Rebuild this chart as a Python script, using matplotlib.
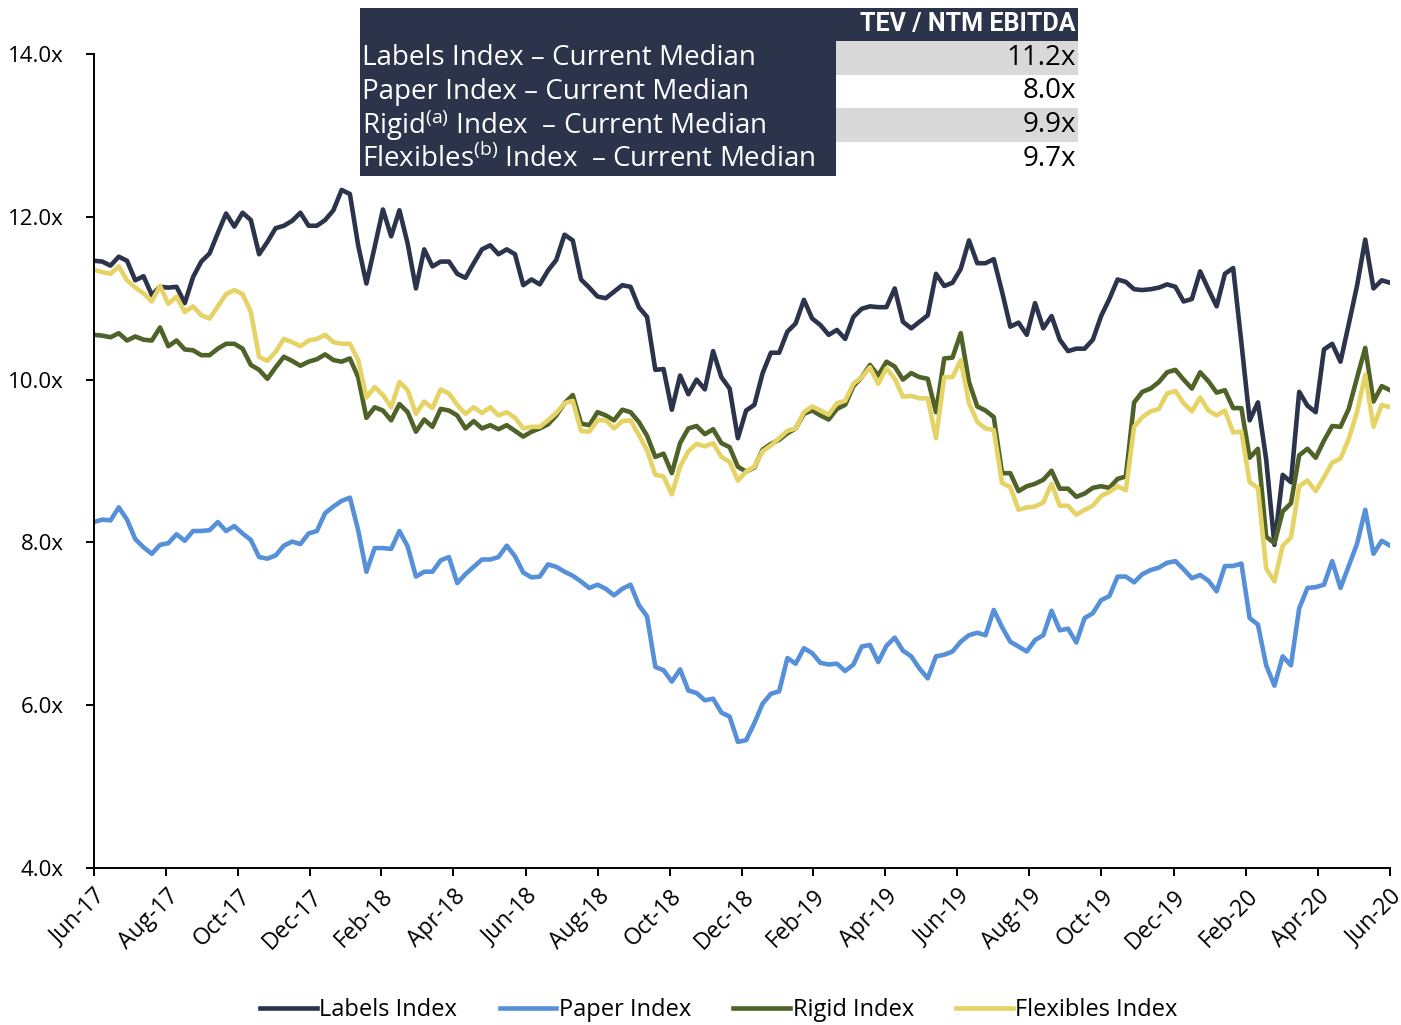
import matplotlib
matplotlib.use("Agg")
import matplotlib.pyplot as plt
from matplotlib.patches import Rectangle
import pandas as pd

plt.rcParams['font.family'] = ['Open Sans', 'DejaVu Sans']
plt.rcParams['mathtext.fontset'] = 'custom'
plt.rcParams['mathtext.rm'] = 'Open Sans'
plt.rcParams['mathtext.it'] = 'Open Sans:italic'
plt.rcParams['mathtext.bf'] = 'Open Sans:bold'

# weekly TEV / NTM EBITDA medians, Jun-17 .. Jun-20
labels_index = [
    11.46, 11.45, 11.40, 11.51, 11.46, 11.22, 11.27, 11.04, 11.14, 11.13,
    11.14, 10.94, 11.26, 11.45, 11.55, 11.80, 12.04, 11.88, 12.05, 11.96,
    11.54, 11.69, 11.86, 11.89, 11.95, 12.05, 11.89, 11.89, 11.96, 12.08,
    12.33, 12.28, 11.65, 11.18, 11.63, 12.09, 11.76, 12.08, 11.67, 11.12,
    11.60, 11.39, 11.45, 11.45, 11.30, 11.25, 11.43, 11.60, 11.65, 11.54,
    11.60, 11.54, 11.16, 11.23, 11.17, 11.34, 11.47, 11.78, 11.71, 11.23,
    11.13, 11.02, 11.00, 11.08, 11.16, 11.14, 10.89, 10.77, 10.12, 10.13,
    9.63, 10.05, 9.82, 10.00, 9.88, 10.35, 10.03, 9.89, 9.28, 9.62,
    9.69, 10.08, 10.33, 10.33, 10.59, 10.69, 10.98, 10.75, 10.67, 10.55,
    10.61, 10.50, 10.77, 10.87, 10.90, 10.89, 10.89, 11.12, 10.71, 10.63,
    10.71, 10.79, 11.30, 11.15, 11.19, 11.36, 11.71, 11.43, 11.43, 11.48,
    11.08, 10.65, 10.70, 10.55, 10.94, 10.63, 10.78, 10.49, 10.35, 10.38,
    10.38, 10.49, 10.78, 10.99, 11.23, 11.20, 11.11, 11.10, 11.11, 11.13,
    11.17, 11.14, 10.96, 10.99, 11.33, 11.11, 10.90, 11.30, 11.37, 10.45,
    9.50, 9.72, 9.02, 7.97, 8.83, 8.74, 9.85, 9.68, 9.60, 10.37,
    10.44, 10.22, 10.68, 11.15, 11.72, 11.12, 11.22, 11.19,
]

paper_index = [
    8.25, 8.28, 8.27, 8.43, 8.28, 8.04, 7.94, 7.86, 7.97, 7.99,
    8.10, 8.02, 8.14, 8.14, 8.15, 8.25, 8.14, 8.20, 8.11, 8.03,
    7.82, 7.80, 7.84, 7.96, 8.01, 7.98, 8.11, 8.14, 8.36, 8.44,
    8.51, 8.55, 8.15, 7.64, 7.93, 7.93, 7.92, 8.14, 7.95, 7.58,
    7.64, 7.64, 7.78, 7.82, 7.50, 7.61, 7.70, 7.79, 7.79, 7.82,
    7.96, 7.83, 7.63, 7.57, 7.58, 7.73, 7.70, 7.64, 7.59, 7.52,
    7.44, 7.48, 7.43, 7.35, 7.43, 7.48, 7.23, 7.09, 6.47, 6.43,
    6.29, 6.44, 6.18, 6.15, 6.06, 6.08, 5.91, 5.86, 5.55, 5.57,
    5.78, 6.02, 6.14, 6.17, 6.58, 6.51, 6.70, 6.64, 6.52, 6.50,
    6.51, 6.42, 6.50, 6.72, 6.74, 6.53, 6.73, 6.83, 6.67, 6.60,
    6.45, 6.33, 6.60, 6.62, 6.66, 6.78, 6.86, 6.89, 6.86, 7.17,
    6.96, 6.78, 6.72, 6.66, 6.80, 6.86, 7.16, 6.92, 6.94, 6.77,
    7.07, 7.13, 7.29, 7.34, 7.58, 7.58, 7.51, 7.61, 7.66, 7.69,
    7.75, 7.77, 7.67, 7.56, 7.60, 7.53, 7.40, 7.71, 7.71, 7.74,
    7.07, 6.99, 6.49, 6.24, 6.60, 6.49, 7.19, 7.44, 7.45, 7.48,
    7.77, 7.44, 7.71, 7.98, 8.40, 7.86, 8.02, 7.96,
]

rigid_index = [
    10.55, 10.54, 10.52, 10.57, 10.48, 10.53, 10.49, 10.48, 10.64, 10.41,
    10.48, 10.37, 10.36, 10.30, 10.30, 10.38, 10.44, 10.44, 10.38, 10.18,
    10.12, 10.01, 10.15, 10.28, 10.23, 10.17, 10.22, 10.25, 10.31, 10.24,
    10.22, 10.26, 10.03, 9.53, 9.66, 9.62, 9.50, 9.70, 9.60, 9.36,
    9.51, 9.42, 9.64, 9.62, 9.56, 9.40, 9.49, 9.40, 9.44, 9.39,
    9.44, 9.37, 9.30, 9.36, 9.40, 9.45, 9.56, 9.71, 9.81, 9.46,
    9.44, 9.60, 9.56, 9.50, 9.63, 9.60, 9.48, 9.31, 9.05, 9.09,
    8.85, 9.22, 9.40, 9.43, 9.33, 9.39, 9.22, 9.17, 8.93, 8.87,
    8.92, 9.14, 9.21, 9.26, 9.34, 9.40, 9.58, 9.62, 9.56, 9.51,
    9.64, 9.69, 9.92, 10.03, 10.18, 10.05, 10.22, 10.16, 10.00, 10.08,
    10.03, 10.01, 9.60, 10.26, 10.27, 10.57, 9.97, 9.67, 9.62, 9.54,
    8.85, 8.85, 8.63, 8.69, 8.72, 8.77, 8.88, 8.66, 8.66, 8.56,
    8.60, 8.67, 8.69, 8.67, 8.78, 8.81, 9.72, 9.85, 9.89, 9.97,
    10.09, 10.12, 10.00, 9.89, 10.09, 9.98, 9.84, 9.87, 9.65, 9.65,
    9.04, 9.15, 8.07, 7.99, 8.38, 8.48, 9.07, 9.15, 9.04, 9.25,
    9.43, 9.42, 9.64, 10.02, 10.39, 9.73, 9.92, 9.87,
]

flexibles_index = [
    11.35, 11.32, 11.30, 11.39, 11.22, 11.13, 11.06, 10.96, 11.15, 10.93,
    11.02, 10.83, 10.90, 10.79, 10.75, 10.90, 11.05, 11.10, 11.05, 10.83,
    10.28, 10.23, 10.34, 10.50, 10.46, 10.41, 10.48, 10.50, 10.55, 10.46,
    10.44, 10.44, 10.24, 9.78, 9.91, 9.81, 9.66, 9.97, 9.87, 9.58,
    9.73, 9.65, 9.88, 9.83, 9.69, 9.58, 9.66, 9.59, 9.66, 9.56,
    9.60, 9.53, 9.40, 9.42, 9.42, 9.50, 9.59, 9.71, 9.74, 9.37,
    9.36, 9.50, 9.50, 9.40, 9.49, 9.50, 9.32, 9.13, 8.83, 8.81,
    8.59, 8.93, 9.12, 9.21, 9.18, 9.22, 9.05, 8.99, 8.76, 8.87,
    8.93, 9.12, 9.19, 9.28, 9.37, 9.40, 9.60, 9.67, 9.62, 9.57,
    9.71, 9.74, 9.95, 10.03, 10.15, 9.95, 10.14, 10.01, 9.79, 9.80,
    9.77, 9.77, 9.28, 10.03, 10.03, 10.24, 9.71, 9.48, 9.40, 9.38,
    8.73, 8.68, 8.40, 8.43, 8.44, 8.49, 8.72, 8.45, 8.45, 8.34,
    8.40, 8.45, 8.57, 8.62, 8.69, 8.64, 9.42, 9.54, 9.61, 9.64,
    9.83, 9.86, 9.71, 9.61, 9.78, 9.62, 9.56, 9.62, 9.35, 9.36,
    8.74, 8.67, 7.68, 7.52, 7.96, 8.06, 8.69, 8.76, 8.63, 8.80,
    8.98, 9.03, 9.27, 9.60, 10.06, 9.42, 9.69, 9.66,
]

series_names = ['Labels Index', 'Paper Index', 'Rigid Index', 'Flexibles Index']
series_colors = ['#2B344B', '#5590D9', '#4F6228', '#E6D365']

table_rows = ['Labels Index – Current Median',
              'Paper Index – Current Median',
              r'Rigid$^{\mathrm{(a)}}$ Index  – Current Median',
              r'Flexibles$^{\mathrm{(b)}}$ Index  – Current Median']
table_values = ['11.2x', '8.0x', '9.9x', '9.7x']
table_header = 'TEV / NTM EBITDA'

tick_labels = ['Jun-17', 'Aug-17', 'Oct-17', 'Dec-17', 'Feb-18', 'Apr-18', 'Jun-18',
               'Aug-18', 'Oct-18', 'Dec-18', 'Feb-19', 'Apr-19', 'Jun-19', 'Aug-19',
               'Oct-19', 'Dec-19', 'Feb-20', 'Apr-20', 'Jun-20']

start = pd.Timestamp('2017-06-30')
end = pd.Timestamp('2020-06-30')
dates = pd.date_range(start, end, periods=len(labels_index))
tick_dates = [start + pd.DateOffset(months=2 * k) for k in range(len(tick_labels))]

fig = plt.figure(figsize=(14.01, 10.25), dpi=100)
ax = fig.add_axes([94 / 1401, 1 - 868 / 1025, (1390 - 94) / 1401, (868 - 54) / 1025])

for vals, name, col in zip([labels_index, paper_index, rigid_index, flexibles_index],
                           series_names, series_colors):
    ax.plot(dates, vals, color=col, lw=3.3, label=name, solid_joinstyle='round')

ax.set_xlim(start, end)
ax.set_ylim(4, 14)
ax.set_yticks([4, 6, 8, 10, 12, 14])
ax.set_yticklabels([f'{v:.1f}x' for v in [4, 6, 8, 10, 12, 14]], fontsize=16)
ax.set_xticks(tick_dates)
ax.set_xticklabels(tick_labels, rotation=45, ha='right', rotation_mode='anchor', fontsize=16.5)

for s in ['top', 'right']:
    ax.spines[s].set_visible(False)
for s in ['left', 'bottom']:
    ax.spines[s].set_linewidth(1.4)
ax.tick_params(direction='out', length=6, width=1.4, pad=6)
ax.tick_params(axis='y', pad=16)

fig.legend(loc='center', bbox_to_anchor=(719 / 1401, 1 - 1010 / 1025), ncol=4, frameon=False,
           fontsize=17, handlelength=2.4, handletextpad=0.1, columnspacing=1.8)

# summary table in the top area
tab = fig.add_axes([360 / 1401, 1 - 176 / 1025, (1078 - 360) / 1401, (176 - 8) / 1025])
tab.set_xlim(360, 1078)
tab.set_ylim(176, 8)
tab.axis('off')
navy = '#2B344B'
tab.add_patch(Rectangle((360, 8), 476, 168, color=navy, lw=0))
tab.add_patch(Rectangle((836, 8), 242, 33, color=navy, lw=0))
row_edges = [41, 75, 108, 142, 176]
for i in range(4):
    fc = '#D9D9D9' if i % 2 == 0 else 'white'
    tab.add_patch(Rectangle((836, row_edges[i]), 242, row_edges[i + 1] - row_edges[i], color=fc, lw=0))
    mid = (row_edges[i] + row_edges[i + 1]) / 2
    tab.text(362, mid, table_rows[i], color='white', fontsize=20, va='center', ha='left')
    tab.text(1076, mid, table_values[i], color='black', fontsize=20, va='center', ha='right')
tab.text(1076, 24.5, table_header, color='white', fontsize=18, fontweight='bold', va='center',
         ha='right', fontstretch='condensed', family=['Liberation Sans Narrow', 'Roboto'])

fig.savefig('out.png', dpi=100)
